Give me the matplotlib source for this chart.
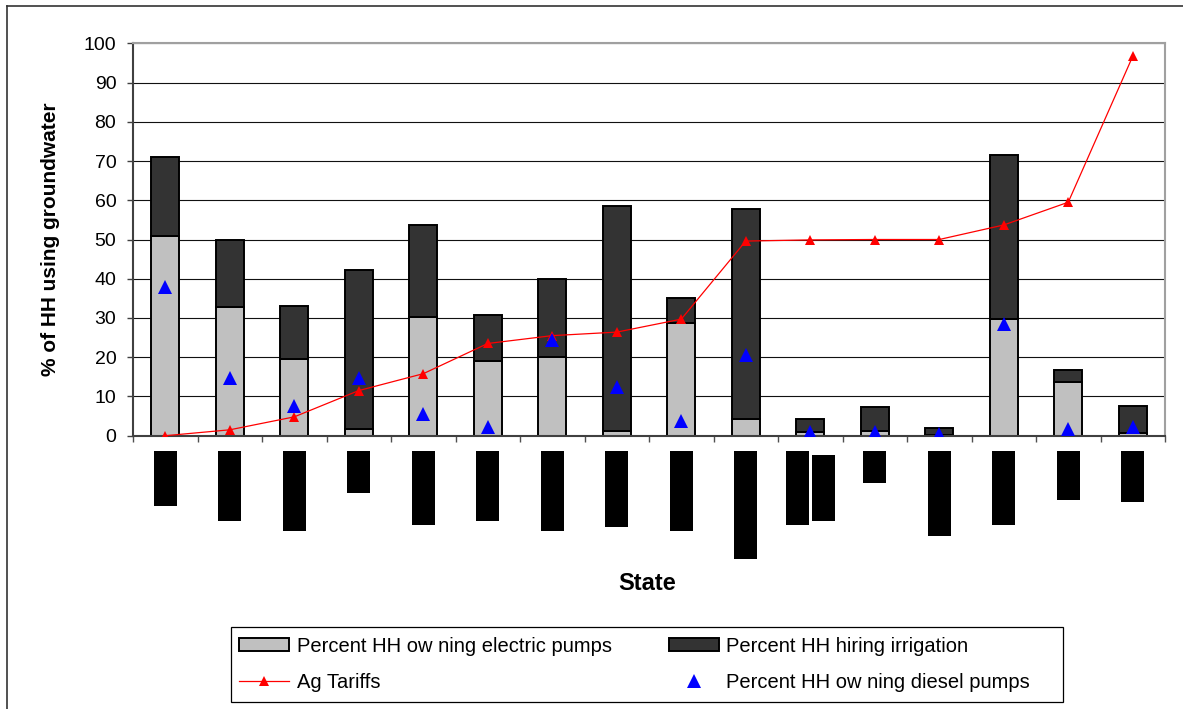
import matplotlib
matplotlib.use("Agg")
import matplotlib.pyplot as plt
from matplotlib.patches import Rectangle
from matplotlib.lines import Line2D
from matplotlib.transforms import blended_transform_factory
import numpy as np

plt.rcParams['font.family'] = ['Liberation Sans', 'DejaVu Sans']

# Sixteen states (names withheld; their axis labels are blacked out)
states = list(range(16))
electric_pumps = [51.0, 32.7, 19.5, 1.7, 30.3, 19.1, 20.1, 1.3, 28.6, 4.3, 1.0, 1.2, 0.3, 29.7, 13.8, 0.8]
total_groundwater = [71.0, 50.0, 33.1, 42.3, 53.7, 30.8, 39.9, 58.5, 35.2, 57.7, 4.3, 7.2, 2.0, 71.5, 16.7, 7.6]
hiring_irrigation = [t - e for t, e in zip(total_groundwater, electric_pumps)]
diesel_pumps = [37.8, 14.8, 7.6, 14.8, 5.6, 2.2, 24.4, 12.5, 3.8, 20.6, 0.9, 0.9, 0.4, 28.5, 1.8, 2.3]
ag_tariffs = [0.0, 1.5, 4.8, 11.5, 15.8, 23.5, 25.5, 26.4, 29.7, 49.6, 49.9, 50.0, 50.0, 53.7, 59.5, 96.7]
y_ticks = list(range(0, 101, 10))

# Blacked-out state labels: (offset from category centre, top px, bottom px)
redacted_labels = [
    [(0.0, 451, 506)], [(0.0, 451, 521)], [(0.0, 451, 531)], [(0.0, 451, 493)],
    [(0.0, 451, 525)], [(0.0, 451, 521)], [(0.0, 451, 531)], [(0.0, 451, 527)],
    [(0.0, 451, 531)], [(0.0, 451, 559)], [(-0.19, 451, 525), (0.21, 455, 521)],
    [(0.0, 451, 483)], [(0.0, 451, 536)], [(0.0, 451, 525)], [(0.0, 451, 500)],
    [(0.0, 451, 502)],
]

W, H = 1183, 709
fig = plt.figure(figsize=(W / 100, H / 100), dpi=100)
fig.patch.set_facecolor('white')
ax = fig.add_axes([133 / W, 1 - 435.7 / H, (1165 - 133) / W, (435.7 - 43.3) / H])

x = np.array(states)
bar_w = 0.43
b1 = ax.bar(x, electric_pumps, width=bar_w, color='#C0C0C0', edgecolor='black',
            linewidth=1.4, zorder=2, label='Percent HH ow ning electric pumps')
b2 = ax.bar(x, hiring_irrigation, width=bar_w, bottom=electric_pumps, color='#333333',
            edgecolor='black', linewidth=1.4, zorder=2, label='Percent HH hiring irrigation')
l1, = ax.plot(x, ag_tariffs, color='#FF0000', lw=0.9, marker='^', markersize=7.5,
              markeredgewidth=0, zorder=3, label='Ag Tariffs')
l2, = ax.plot(x, diesel_pumps, linestyle='none', color='#0000FF', marker='^',
              markersize=10.5, markeredgewidth=0, zorder=4, label='Percent HH ow ning diesel pumps')

ax.set_xlim(-0.5, 15.5)
ax.set_ylim(0, 100)
ax.set_yticks(y_ticks)
ax.set_yticklabels([str(v) for v in y_ticks], fontsize=14)
ax.set_xticks(np.arange(-0.5, 16, 1))
ax.set_xticklabels([])
ax.tick_params(axis='y', direction='out', length=4.5, width=1.0, color='#404040', pad=7.5)
ax.tick_params(axis='x', direction='out', length=4.5, width=1.0, color='#505050')

ax.yaxis.grid(True, color='#111111', linewidth=0.8)
ax.set_axisbelow(True)

for side in ('left', 'bottom'):
    ax.spines[side].set_color('#404040')
    ax.spines[side].set_linewidth(1.5)
for side in ('top', 'right'):
    ax.spines[side].set_color('#A0A0A0')
    ax.spines[side].set_linewidth(1.5)

ax.set_ylabel('% of HH using groundwater', fontsize=15, fontweight='bold')
ax.yaxis.set_label_coords(-0.071, 0.5)
ax.set_xlabel('State', fontsize=17, fontweight='bold')
ax.xaxis.label.set_va('baseline')
ax.xaxis.set_label_coords(0.4985, -(590 - 435.7) / (435.7 - 43.3))

# Blacked-out category labels under the axis
trans = blended_transform_factory(ax.transData, fig.transFigure)
block_w = 23 / ((1165 - 133) / 16)
for xi, blocks in zip(states, redacted_labels):
    for off, top, bot in blocks:
        ax.add_patch(Rectangle((xi + off - block_w / 2, 1 - bot / H), block_w, (bot - top) / H,
                               transform=trans, facecolor='black', edgecolor='none',
                               clip_on=False, zorder=5))

# Legend below the chart, with its own box
leg = fig.legend([b1, l1, b2, l2],
                 ['Percent HH ow ning electric pumps', 'Ag Tariffs',
                  'Percent HH hiring irrigation', 'Percent HH ow ning diesel pumps'],
                 ncol=2, loc='center', mode='expand',
                 bbox_to_anchor=(231 / W, 1 - 702 / H, (1038 - 231) / W, (702 - 627) / H),
                 bbox_transform=fig.transFigure, borderaxespad=0, fontsize=14.5,
                 frameon=False, handlelength=2.5, handleheight=0.62, handletextpad=0.36,
                 labelspacing=0.84, borderpad=0.4, numpoints=1)
fig.add_artist(Rectangle((231 / W, 1 - 702 / H), (1063 - 231) / W, (702 - 627) / H,
                         transform=fig.transFigure, fill=False, edgecolor='black', lw=0.9))

# Outer chart border (left and top edges visible)
fig.add_artist(Line2D([7 / W, 7 / W], [0, 1 - 6 / H], transform=fig.transFigure,
                      color='#333333', lw=1.2))
fig.add_artist(Line2D([7 / W, 1], [1 - 6 / H, 1 - 6 / H], transform=fig.transFigure,
                      color='#333333', lw=1.2))

fig.savefig('out.png', dpi=100, facecolor='white')
